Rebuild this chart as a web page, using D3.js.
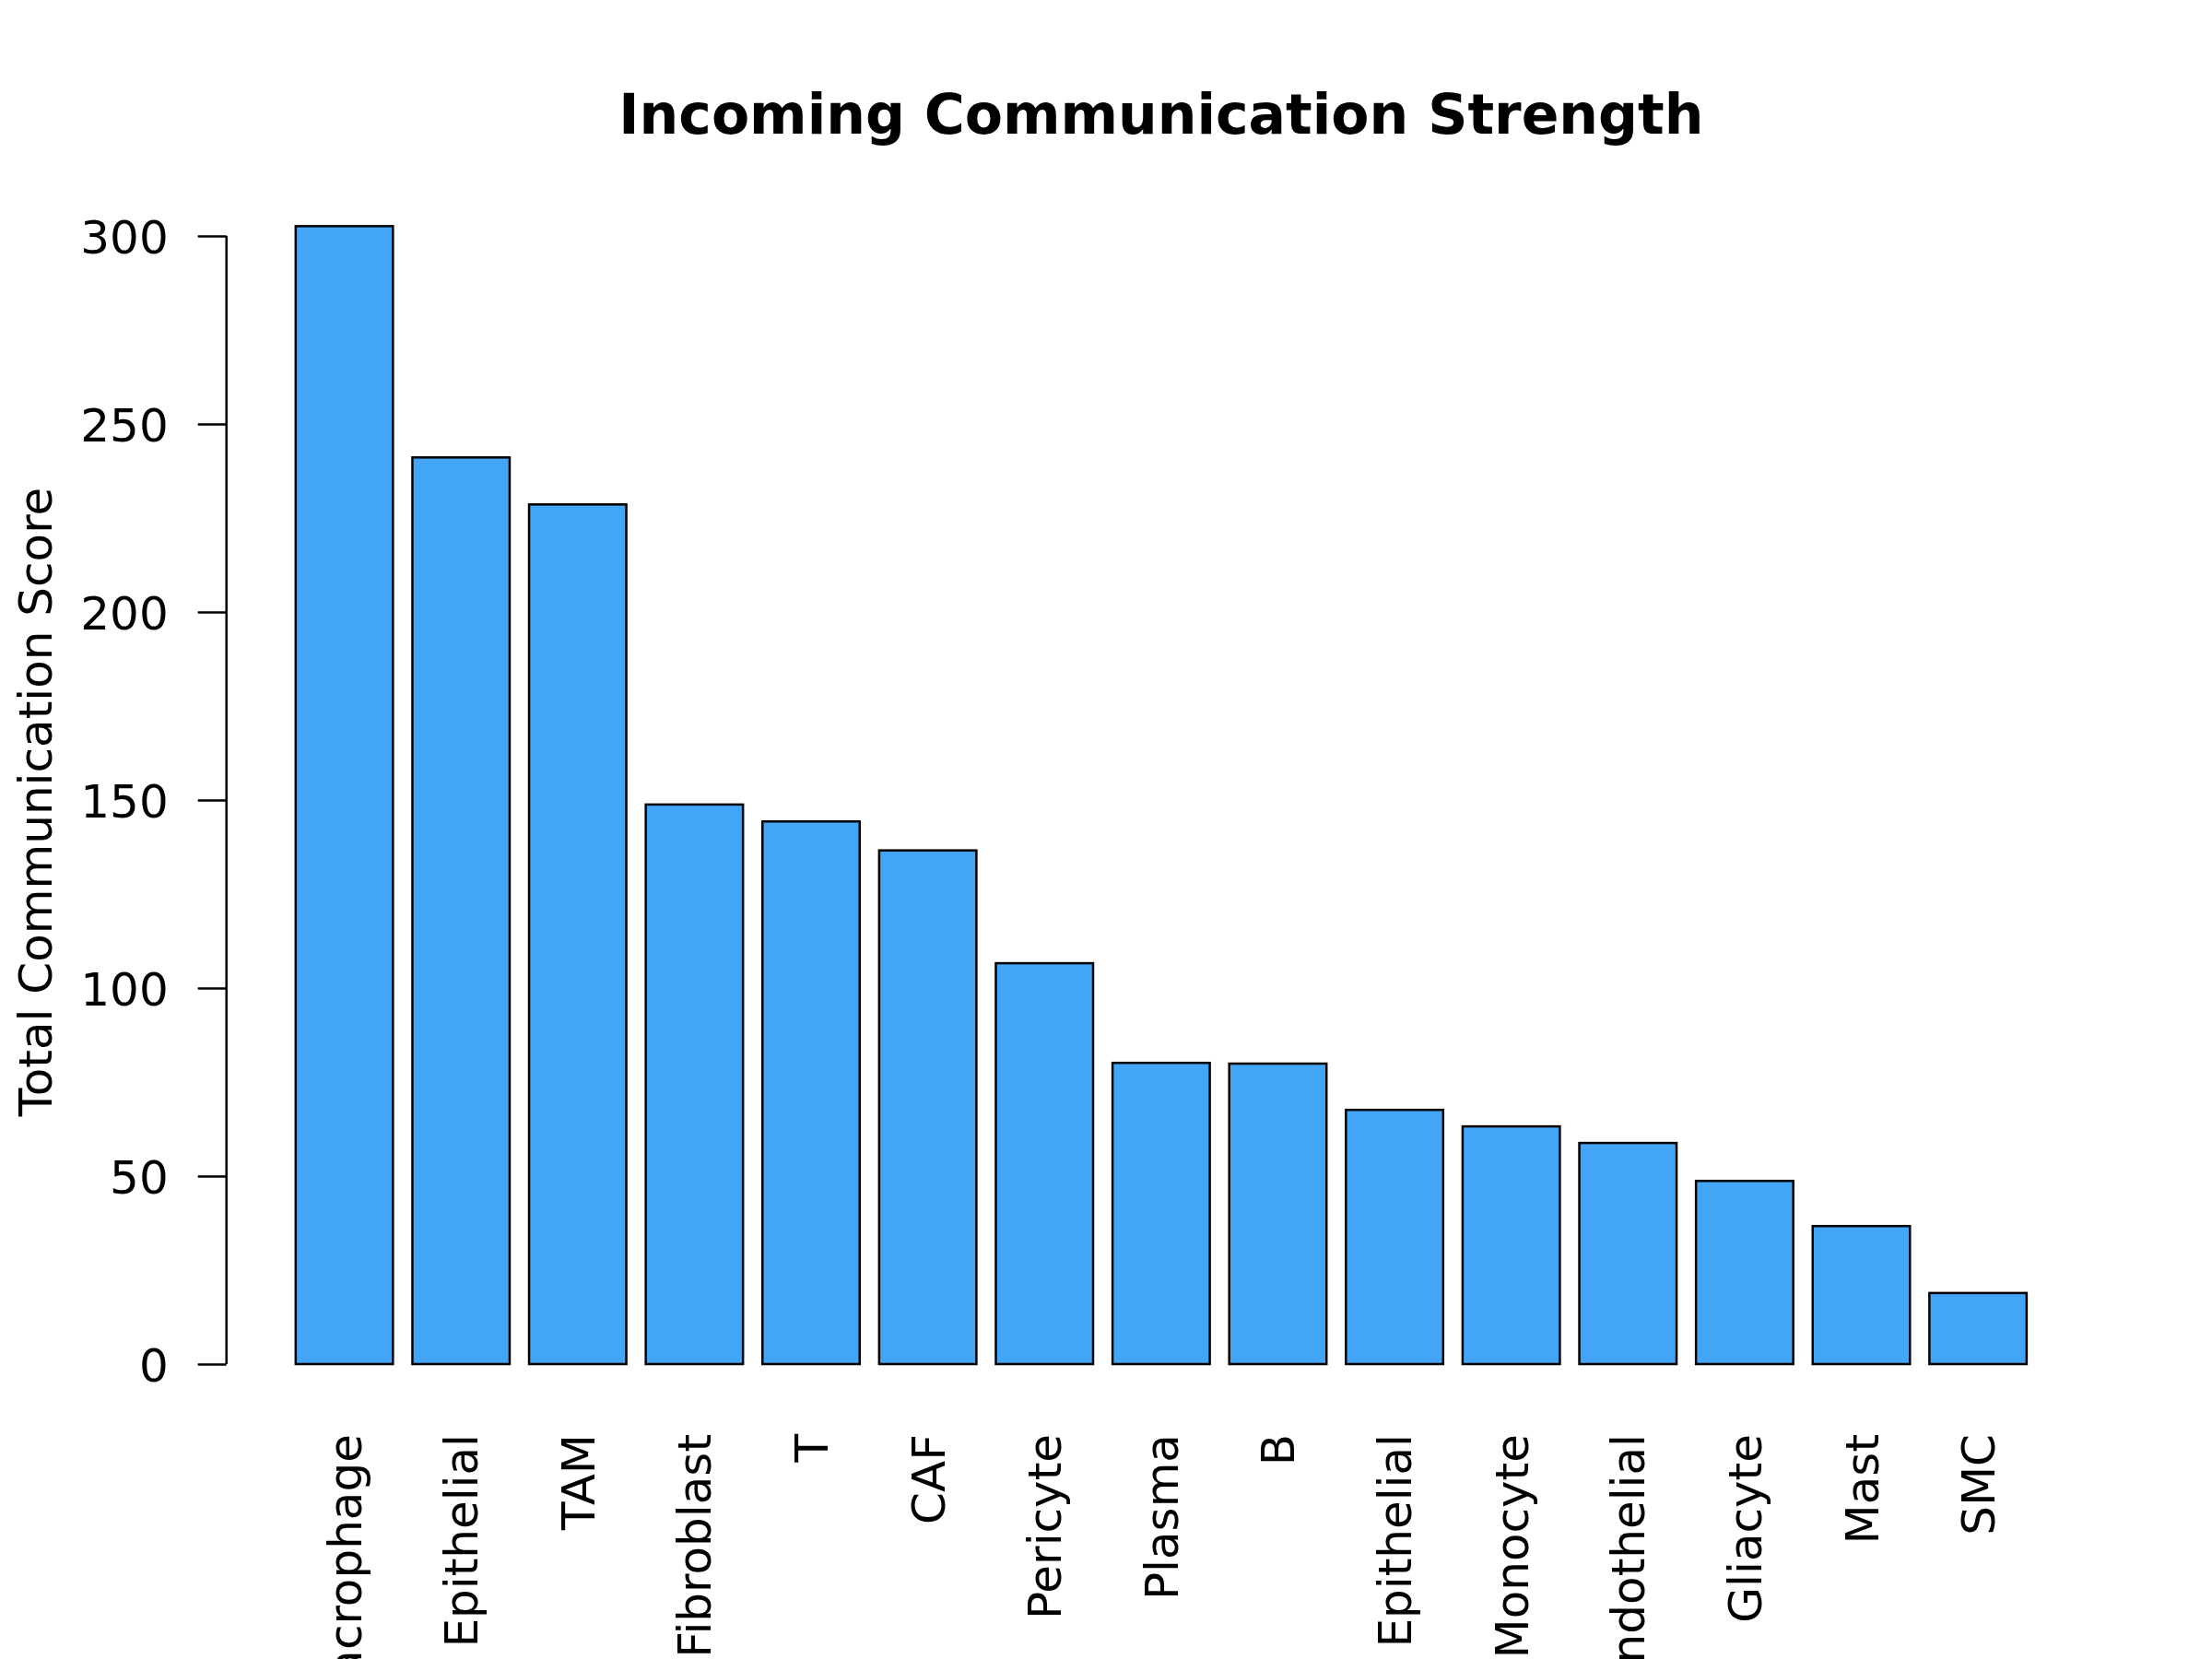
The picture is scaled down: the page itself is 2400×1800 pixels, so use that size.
<!DOCTYPE html>
<html>
<head>
<meta charset="utf-8">
<script src="https://cdn.jsdelivr.net/npm/d3@7"></script>
<style>
  html, body { margin: 0; padding: 0; background: #ffffff; overflow: hidden; }
  svg { display: block; }
</style>
</head>
<body>
<script>
const categories = ["Macrophage", "Epithelial", "TAM", "Fibroblast", "T", "CAF", "Pericyte",
  "Plasma", "B", "Epithelial", "Monocyte", "Endothelial", "Gliacyte", "Mast", "SMC"];
const values = [302.6, 241.1, 228.6, 148.8, 144.3, 136.6, 106.6, 80.1, 79.9, 67.6, 63.2, 58.8, 48.7, 36.7, 18.9];
const yTicks = [0, 50, 100, 150, 200, 250, 300];
const titleText = "Incoming Communication Strength";
const yLabelText = "Total Communication Score";

const W = 2400, H = 1800;
const barColor = "#42A5F5";
const font = "DejaVu Sans, sans-serif";

const svg = d3.select("body").append("svg").attr("width", W).attr("height", H);

// R barplot geometry: width 1, space 0.2, 4% axis expansion
const n = values.length;
const xmin = 0.2, xmax = 0.2 + (n - 1) * 1.2 + 1;
const xpad = (xmax - xmin) * 0.04;
const x = d3.scaleLinear().domain([xmin - xpad, xmax + xpad]).range([245.7, 2274]);
const y = d3.scaleLinear().domain([0, 300]).range([1480, 256]);

// bars
svg.append("g").selectAll("rect").data(values).join("rect")
  .attr("x", (d, i) => x(0.2 + i * 1.2))
  .attr("width", (d, i) => x(1.2 + i * 1.2) - x(0.2 + i * 1.2))
  .attr("y", d => y(d))
  .attr("height", d => y(0) - y(d))
  .attr("fill", barColor)
  .attr("stroke", "#000")
  .attr("stroke-width", 2.5);

// y axis
const yAxis = d3.axisLeft(y).tickValues(yTicks).tickSize(31).tickPadding(32).tickSizeOuter(0);
const gy = svg.append("g").attr("transform", `translate(${x.range()[0]},0)`).call(yAxis);
gy.select(".domain").attr("stroke", "#000").attr("stroke-width", 2.5)
  .attr("d", `M0,${y(0)}V${y(300)}`);
gy.selectAll(".tick line").attr("stroke", "#000").attr("stroke-width", 2.5);
gy.selectAll(".tick text").attr("font-family", font).attr("font-size", 50).attr("fill", "#000")
  .attr("dy", "0.36em");

// x labels (vertical, las = 2)
svg.append("g").selectAll("text").data(categories).join("text")
  .attr("transform", (d, i) => `translate(${x(0.7 + i * 1.2)},1556) rotate(-90)`)
  .attr("text-anchor", "end")
  .attr("dy", "0.36em")
  .attr("font-family", font)
  .attr("font-size", 50)
  .attr("fill", "#000")
  .text(d => d);

// title
svg.append("text")
  .attr("x", (x.range()[0] + x.range()[1]) / 2)
  .attr("y", 145)
  .attr("text-anchor", "middle")
  .attr("font-family", font)
  .attr("font-weight", "bold")
  .attr("font-size", 60)
  .attr("fill", "#000")
  .text(titleText);

// y label
svg.append("text")
  .attr("transform", `translate(38,870) rotate(-90)`)
  .attr("text-anchor", "middle")
  .attr("dy", "0.36em")
  .attr("font-family", font)
  .attr("font-size", 50)
  .attr("fill", "#000")
  .text(yLabelText);
</script>
</body>
</html>
